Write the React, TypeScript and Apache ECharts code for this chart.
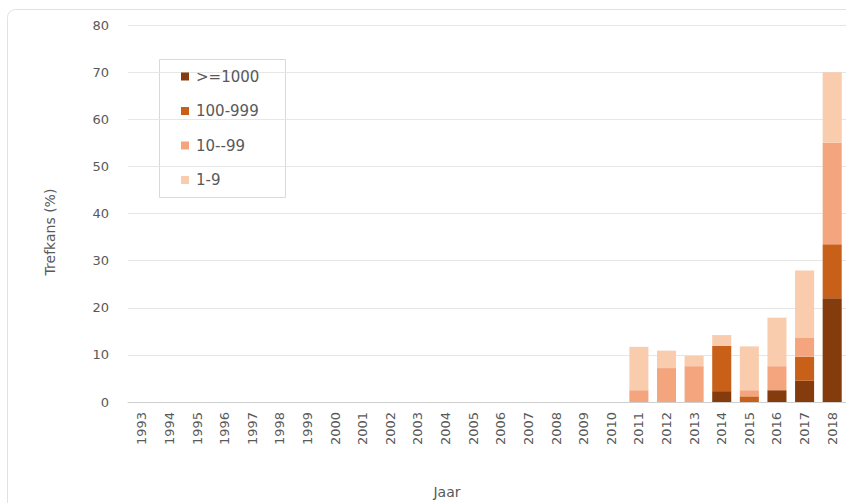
import React, { useEffect, useRef } from "react";
import * as echarts from "echarts";

const years = [
  "1993", "1994", "1995", "1996", "1997", "1998", "1999", "2000", "2001",
  "2002", "2003", "2004", "2005", "2006", "2007", "2008", "2009", "2010",
  "2011", "2012", "2013", "2014", "2015", "2016", "2017", "2018",
];

// Trefkans (%) per abundance class, stacked from the highest class upward
const over1000 = [0, 0, 0, 0, 0, 0, 0, 0, 0, 0, 0, 0, 0, 0, 0, 0, 0, 0, 0, 0, 0, 2.3, 0, 2.5, 4.5, 22];
const from100 = [0, 0, 0, 0, 0, 0, 0, 0, 0, 0, 0, 0, 0, 0, 0, 0, 0, 0, 0, 0, 0, 9.6, 1.2, 0, 5.1, 11.5];
const from10 = [0, 0, 0, 0, 0, 0, 0, 0, 0, 0, 0, 0, 0, 0, 0, 0, 0, 0, 2.5, 7.2, 7.6, 0, 1.3, 5.1, 4.1, 21.5];
const from1 = [0, 0, 0, 0, 0, 0, 0, 0, 0, 0, 0, 0, 0, 0, 0, 0, 0, 0, 9.2, 3.7, 2.2, 2.3, 9.3, 10.3, 14.2, 15];

const classNames = [">=1000", "100-999", "10--99", "1-9"];
const classColors = ["#843C0C", "#C9601A", "#F4A57E", "#F9CCAE"];
const yTicks = [0, 10, 20, 30, 40, 50, 60, 70, 80];

const textColor = "#595959";
const font = "DejaVu Sans";

export default function App() {
  const ref = useRef<HTMLDivElement>(null);

  useEffect(() => {
    if (!ref.current) return;
    const chart = echarts.init(ref.current, null, { renderer: "svg" });
    const seriesData = [over1000, from100, from10, from1];

    chart.setOption({
      animation: false,
      backgroundColor: "#ffffff",
      grid: { left: 128, right: -5, top: 25, bottom: 101, containLabel: false },
      legend: {
        orient: "vertical",
        left: 181,
        top: 69,
        padding: 0,
        itemWidth: 8,
        itemHeight: 8,
        itemGap: 19.5,
        icon: "rect",
        data: classNames,
        textStyle: { color: textColor, fontSize: 15, fontFamily: font, padding: [0, 0, 0, 2] },
      },
      xAxis: {
        type: "category",
        data: years,
        axisLine: { lineStyle: { color: "#cfcfcf", width: 1 } },
        axisTick: { show: false },
        axisLabel: {
          rotate: 90,
          color: textColor,
          fontSize: 13,
          fontFamily: font,
          margin: 10,
          interval: 0,
        },
      },
      yAxis: {
        type: "value",
        min: yTicks[0],
        max: yTicks[yTicks.length - 1],
        interval: 10,
        axisLine: { show: false },
        axisTick: { show: false },
        splitLine: { lineStyle: { color: "#e6e6e6", width: 1 } },
        axisLabel: { color: textColor, fontSize: 13, fontFamily: font, margin: 19 },
      },
      series: classNames.map((name, i) => ({
        name,
        type: "bar",
        stack: "trefkans",
        data: seriesData[i],
        barCategoryGap: "31%",
        itemStyle: { color: classColors[i] },
      })),
      graphic: [
        {
          type: "rect",
          left: 5,
          top: 7,
          shape: { width: 900, height: 520, r: 8 },
          style: { fill: "none", stroke: "#e2e2e2", lineWidth: 1 },
          silent: true,
          z: -1,
        },
        {
          type: "rect",
          left: 157,
          top: 57,
          shape: { width: 126, height: 138 },
          style: { fill: "none", stroke: "#d9d9d9", lineWidth: 1 },
          silent: true,
        },
        {
          type: "text",
          x: 50,
          y: 232,
          rotation: Math.PI / 2,
          style: {
            text: "Trefkans (%)",
            fill: textColor,
            fontSize: 14,
            fontFamily: font,
            align: "center",
            verticalAlign: "middle",
          },
        },
        {
          type: "text",
          x: 447,
          y: 492,
          style: {
            text: "Jaar",
            fill: textColor,
            fontSize: 14,
            fontFamily: font,
            align: "center",
            verticalAlign: "middle",
          },
        },
      ],
    });

    return () => chart.dispose();
  }, []);

  return (
    <div
      ref={ref}
      style={{ position: "fixed", left: 0, top: 0, width: 846, height: 503 }}
    />
  );
}
